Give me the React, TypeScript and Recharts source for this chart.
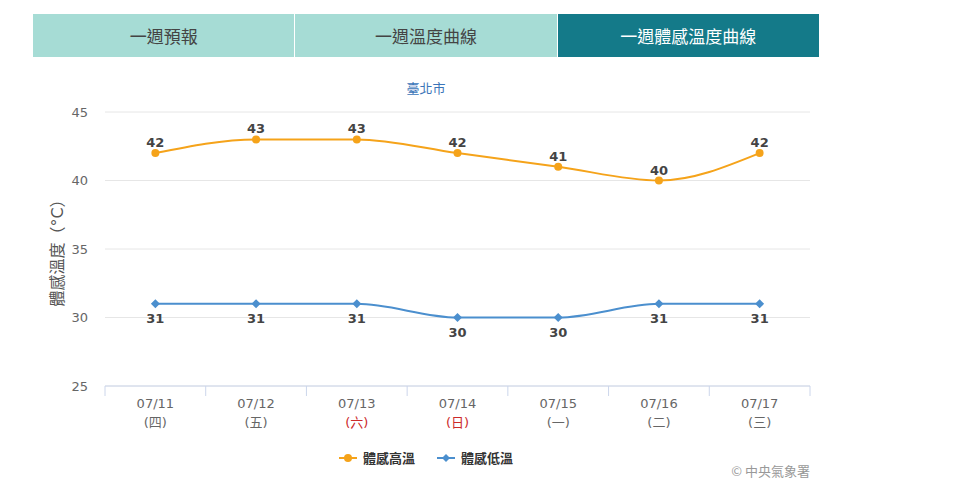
import React from 'react';
import { LineChart, Line, XAxis, YAxis, CartesianGrid, LabelList } from 'recharts';

const categories = ['07/11', '07/12', '07/13', '07/14', '07/15', '07/16', '07/17'];
const weekdays = ['四', '五', '六', '日', '一', '二', '三'];
const weekendFlags = [false, false, true, true, false, false, false];
const highTemps = [42, 43, 43, 42, 41, 40, 42];
const lowTemps = [31, 31, 31, 30, 30, 31, 31];
const yTicks = [25, 30, 35, 40, 45];
const tabs = ['一週預報', '一週溫度曲線', '一週體感溫度曲線'];
const seriesNames = ['體感高溫', '體感低溫'];

const data = categories.map((c, i) => ({
  date: c,
  wd: weekdays[i],
  weekend: weekendFlags[i],
  high: highTemps[i],
  low: lowTemps[i],
}));

const FONT = '"DejaVu Sans", "Noto Sans CJK TC", sans-serif';
const CJK = '"Noto Sans CJK TC", sans-serif';
const ORANGE = '#f5a31a';
const BLUE = '#4b8fce';
const CHART_W = 960;
const CHART_H = 488;
const M_LEFT = 45;
const Y_W = 60;
const M_RIGHT = 150;
const X_H = 30;
const PLOT_W = CHART_W - M_LEFT - Y_W - M_RIGHT;
const STEP = PLOT_W / categories.length;

const XTick = (props: any) => {
  const { x, y, payload, index } = props;
  const d = data[index] || data.find((e) => e.date === payload.value);
  const red = d && d.weekend;
  return (
    <g>
      <line x1={x - STEP / 2} x2={x - STEP / 2} y1={y} y2={y + 10} stroke="#ccd6eb" strokeWidth={1} />
      {index === categories.length - 1 && (
        <line x1={x + STEP / 2} x2={x + STEP / 2} y1={y} y2={y + 10} stroke="#ccd6eb" strokeWidth={1} />
      )}
      <text x={x} y={y + 22} textAnchor="middle" fill="#666" fontSize={13} fontFamily={FONT}>
        {payload.value}
      </text>
      <text x={x} y={y + 41} textAnchor="middle" fill={red ? '#cc2a2a' : '#666'} fontSize={13} fontFamily={FONT}>
        {'(' + (d ? d.wd : '') + ')'}
      </text>
    </g>
  );
};

const Diamond = (props: any) => {
  const { cx, cy } = props;
  if (cx == null || cy == null) return null;
  const r = 4.5;
  return <path d={`M${cx},${cy - r}L${cx + r},${cy}L${cx},${cy + r}L${cx - r},${cy}Z`} fill={BLUE} />;
};

const Circle = (props: any) => {
  const { cx, cy } = props;
  if (cx == null || cy == null) return null;
  return <circle cx={cx} cy={cy} r={4} fill={ORANGE} />;
};

const LegendBlock = () => (
  <div
    style={{
      position: 'absolute',
      left: 33,
      width: 786,
      top: 448,
      display: 'flex',
      justifyContent: 'center',
      alignItems: 'center',
      gap: 22,
      fontFamily: CJK,
      fontSize: 13,
      fontWeight: 'bold',
      color: '#333',
    }}
  >
    {[ORANGE, BLUE].map((col, i) => (
      <div key={i} style={{ display: 'flex', alignItems: 'center' }}>
        <svg width={18} height={12} style={{ marginRight: 6 }}>
          <line x1={0} x2={18} y1={6} y2={6} stroke={col} strokeWidth={2} />
          {i === 0 ? <circle cx={9} cy={6} r={4} fill={col} /> : <path d="M9,2L13,6L9,10L5,6Z" fill={col} />}
        </svg>
        <span>{seriesNames[i]}</span>
      </div>
    ))}
  </div>
);

const YTitle = (props: any) => {
  const { viewBox } = props;
  const cx = 57;
  const cy = viewBox.y + viewBox.height / 2;
  return (
    <text
      x={cx}
      y={cy}
      transform={`rotate(-90, ${cx}, ${cy})`}
      textAnchor="middle"
      dominantBaseline="central"
      fill="#555"
      fontSize={16}
      fontFamily={FONT}
    >
      體感溫度（°C）
    </text>
  );
};

export default function App() {
  return (
    <div style={{ position: 'absolute', left: 0, top: 0, width: CHART_W, height: CHART_H, background: '#fff', fontFamily: FONT }}>
      {tabs.map((t, i) => (
        <div
          key={t}
          style={{
            position: 'absolute',
            left: 33 + i * 262.3,
            top: 14,
            width: 261.3,
            height: 43,
            background: i === 2 ? '#147a89' : '#a6dcd5',
            color: i === 2 ? '#fff' : '#444',
            fontSize: 17,
            fontWeight: 400,
            display: 'flex',
            alignItems: 'center',
            justifyContent: 'center',
            fontFamily: CJK,
          }}
        >
          {t}
        </div>
      ))}
      <div
        style={{
          position: 'absolute',
          left: 33,
          width: 786,
          top: 78,
          textAlign: 'center',
          color: '#3a74b8',
          fontSize: 13,
          fontFamily: CJK,
        }}
      >
        臺北市
      </div>
      <div
        style={{
          position: 'absolute',
          right: CHART_W - 810,
          top: 461,
          color: '#999',
          fontSize: 13,
          fontFamily: CJK,
        }}
      >
        © 中央氣象署
      </div>
      <div style={{ position: 'absolute', left: 0, top: 0 }}>
        <LineChart
          width={CHART_W}
          height={CHART_H}
          data={data}
          margin={{ top: 112, right: M_RIGHT, bottom: CHART_H - 386 - X_H, left: M_LEFT }}
        >
          <CartesianGrid vertical={false} stroke="#e6e6e6" />
          <XAxis
            dataKey="date"
            height={X_H}
            padding={{ left: STEP / 2, right: STEP / 2 }}
            tickLine={false}
            tickSize={0}
            tickMargin={0}
            axisLine={{ stroke: '#ccd6eb' }}
            tick={<XTick />}
            interval={0}
          />
          <YAxis
            width={Y_W}
            domain={[25, 45]}
            ticks={yTicks}
            axisLine={false}
            tickLine={false}
            tickSize={0}
            tickMargin={17}
            tick={{ fill: '#666', fontSize: 13, fontFamily: FONT }}
            label={<YTitle />}
          />
          <Line
            type="monotone"
            dataKey="high"
            name={seriesNames[0]}
            stroke={ORANGE}
            strokeWidth={2}
            dot={<Circle />}
            activeDot={false}
            isAnimationActive={false}
          >
            <LabelList dataKey="high" position="top" offset={6} fill="#444" fontSize={13} fontWeight="bold" fontFamily={FONT} />
          </Line>
          <Line
            type="monotone"
            dataKey="low"
            name={seriesNames[1]}
            stroke={BLUE}
            strokeWidth={2}
            dot={<Diamond />}
            activeDot={false}
            isAnimationActive={false}
          >
            <LabelList dataKey="low" position="bottom" offset={10} fill="#444" fontSize={13} fontWeight="bold" fontFamily={FONT} />
          </Line>
        </LineChart>
      </div>
      <LegendBlock />
    </div>
  );
}
